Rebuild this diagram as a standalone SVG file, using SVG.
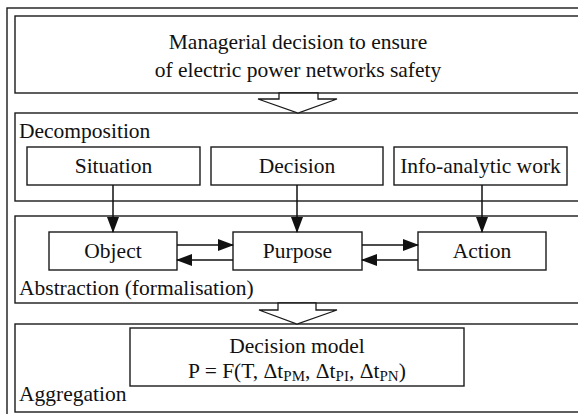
<svg xmlns="http://www.w3.org/2000/svg" width="578" height="414" viewBox="0 0 578 414">
<defs>
<style>
.box{fill:#fff;stroke:#1a1a1a;stroke-width:1.4}
.frame{fill:none;stroke:#1a1a1a;stroke-width:1.4}
.t{font-family:'Liberation Serif','Times New Roman',serif;font-size:21.5px;fill:#111}
.c{text-anchor:middle}
.sub{font-size:15px}
.ln{stroke:#111;stroke-width:1.5;fill:none}
.hollow{fill:#fff;stroke:#1a1a1a;stroke-width:1.3}
</style>
<marker id="ah" markerWidth="16" markerHeight="12" refX="15" refY="6" orient="auto" markerUnits="userSpaceOnUse">
<path d="M0,0 L16,6 L0,12 Z" fill="#111"/>
</marker>
</defs>
<rect width="578" height="414" fill="#fff"/>
<rect class="frame" x="7" y="8" width="590" height="420"/>
<g id="title">
<rect class="box" x="15" y="16" width="580" height="77"/>
<text class="t c" x="298" y="49">Managerial decision to ensure</text>
<text class="t c" x="298" y="77">of electric power networks safety</text>
</g>
<g id="decomposition">
<rect class="box" x="15" y="113" width="580" height="88"/>
<text class="t" x="19" y="138">Decomposition</text>
</g>
<g id="abstraction">
<rect class="box" x="15" y="216" width="580" height="87"/>
<text class="t" x="19" y="295">Abstraction (formalisation)</text>
</g>
<g id="aggregation">
<rect class="box" x="15" y="324" width="580" height="88"/>
<text class="t" x="19" y="401">Aggregation</text>
</g>
<g id="situation">
<rect class="box" x="27" y="147" width="173" height="38"/>
<text class="t c" x="113.5" y="173">Situation</text>
</g>
<g id="decision">
<rect class="box" x="211" y="147" width="172" height="38"/>
<text class="t c" x="297" y="173">Decision</text>
</g>
<g id="info">
<rect class="box" x="394" y="147" width="173" height="38"/>
<text class="t c" x="480.5" y="173">Info-analytic work</text>
</g>
<g id="object">
<rect class="box" x="49" y="232" width="128" height="38"/>
<text class="t c" x="113" y="258">Object</text>
</g>
<g id="purpose">
<rect class="box" x="233" y="232" width="129" height="38"/>
<text class="t c" x="297.5" y="258">Purpose</text>
</g>
<g id="action">
<rect class="box" x="418" y="232" width="128" height="38"/>
<text class="t c" x="482" y="258">Action</text>
</g>
<g id="model">
<rect class="box" x="130" y="328" width="334" height="58"/>
<text class="t c" x="297" y="353">Decision model</text>
<text class="t c" x="297" y="378">P = F(T, Δt<tspan class="sub" dy="3">PM</tspan><tspan dy="-3">, Δt</tspan><tspan class="sub" dy="3">PI</tspan><tspan dy="-3">, Δt</tspan><tspan class="sub" dy="3">PN</tspan><tspan dy="-3">)</tspan></text>
</g>
<g id="connectors">
<polygon class="hollow" points="279,93 318,93 318,99 337,99 298,113 258,99 279,99"/>
<polygon class="hollow" points="278,303 316,303 316,310 337,310 297,324 259,310 278,310"/>
<line class="ln" x1="113" y1="185" x2="113" y2="232" marker-end="url(#ah)"/>
<line class="ln" x1="297" y1="185" x2="297" y2="232" marker-end="url(#ah)"/>
<line class="ln" x1="482" y1="185" x2="482" y2="232" marker-end="url(#ah)"/>
<line class="ln" x1="177" y1="245" x2="233" y2="245" marker-end="url(#ah)"/>
<line class="ln" x1="233" y1="260" x2="177" y2="260" marker-end="url(#ah)"/>
<line class="ln" x1="362" y1="245" x2="418" y2="245" marker-end="url(#ah)"/>
<line class="ln" x1="418" y1="260" x2="362" y2="260" marker-end="url(#ah)"/>
</g>
</svg>
